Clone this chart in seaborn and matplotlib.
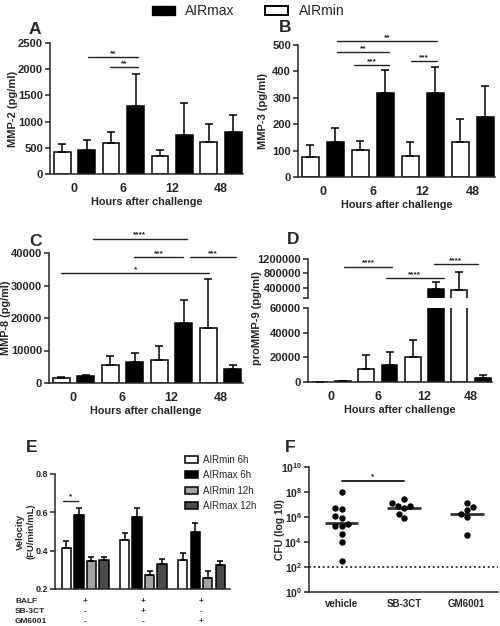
import numpy as np
import pandas as pd
import matplotlib
matplotlib.use('Agg')
import matplotlib.pyplot as plt
import matplotlib.transforms as mtrans
from matplotlib.patches import Patch
import seaborn as sns

sns.set_theme(style='ticks')
plt.rcParams['font.family'] = ['Liberation Sans', 'DejaVu Sans']
plt.rcParams['font.weight'] = 'bold'
plt.rcParams['axes.labelweight'] = 'bold'
plt.rcParams['mathtext.fontset'] = 'custom'
plt.rcParams['mathtext.rm'] = 'Liberation Sans:bold'
plt.rcParams['mathtext.bf'] = 'Liberation Sans:bold'
plt.rcParams['mathtext.it'] = 'Liberation Sans:bold'
plt.rcParams['axes.linewidth'] = 1.1

# ---------------- data ----------------
hours = ['0', '6', '12', '48']
groups = ['AIRmin', 'AIRmax']

mmp2_min = [427, 600, 344, 612]
mmp2_min_sd = [141, 197, 122, 338]
mmp2_max = [453, 1307, 746, 797]
mmp2_max_sd = [197, 600, 606, 325]

mmp3_min = [75, 102, 80, 131]
mmp3_min_sd = [47, 33, 51, 88]
mmp3_max = [133, 319, 319, 229]
mmp3_max_sd = [54, 86, 99, 116]

mmp8_min = [1600, 5440, 7080, 17030]
mmp8_min_sd = [300, 2960, 4200, 14870]
mmp8_max = [2100, 6560, 18360, 4410]
mmp8_max_sd = [450, 2570, 7280, 1130]

mmp9_min = [200, 10580, 20080, 325600]
mmp9_min_sd = [100, 11120, 14110, 520400]
mmp9_max = [700, 13570, 372000, 3530]
mmp9_max_sd = [400, 10580, 186000, 1900]

# significance brackets: (from bar index, to bar index, height, label); bars indexed 0..7
sig_a = [(1.07, 3.11, 2232, '**'), (1.97, 3.11, 2035, '**')]
sig_b = [(1.07, 5.07, 516, '**'), (1.07, 3.16, 474, '**'),
         (1.75, 3.16, 425, '***'), (4.04, 5.07, 438, '***')]
sig_c = [(1.28, 5.14, 44400, '****'), (2.98, 4.98, 38770, '***'),
         (5.25, 7.13, 38770, '***'), (0.0, 6.04, 33850, '*')]
sig_d = [(1.04, 3.12, 986000, '****'), (2.86, 5.32, 660000, '****'),
         (4.89, 6.79, 1051000, '****')]

e_conditions = ['BALF', 'BALF+SB-3CT', 'BALF+GM6001']
e_series = ['AIRmin 6h', 'AIRmax 6h', 'AIRmin 12h', 'AIRmax 12h']
e_vals = {
    'AIRmin 6h': [0.416, 0.454, 0.351],
    'AIRmax 6h': [0.584, 0.578, 0.496],
    'AIRmin 12h': [0.346, 0.275, 0.259],
    'AIRmax 12h': [0.351, 0.329, 0.325],
}
e_sd = {
    'AIRmin 6h': [0.032, 0.036, 0.039],
    'AIRmax 6h': [0.039, 0.047, 0.047],
    'AIRmin 12h': [0.019, 0.017, 0.037],
    'AIRmax 12h': [0.016, 0.026, 0.021],
}
e_table_rows = ['BALF', 'SB-3CT', 'GM6001']
e_table = [['+', '+', '+'], ['-', '+', '-'], ['-', '-', '+']]

f_treat = ['vehicle', 'SB-3CT', 'GM6001']
f_vehicle_log = [7.97, 6.72, 6.64, 5.92, 6.05, 5.44, 5.25, 5.31, 4.67, 4.0, 2.45]
f_sb3ct_log = [7.12, 7.44, 6.91, 6.72, 6.91, 5.92, 6.27]
f_gm6001_log = [6.77, 7.12, 6.27, 6.59, 5.97, 4.56]
f_detect_limit = 100

# ---------------- figure ----------------
W, H = 500, 626
fig = plt.figure(figsize=(W / 100, H / 100), dpi=100)


def add_axes(l, r, t, b):
    return fig.add_axes([l / W, 1 - b / H, (r - l) / W, (b - t) / H])


palette = {'AIRmin': 'white', 'AIRmax': 'black'}
LW = 1.1


def style_axis(ax, tick_fs=8):
    sns.despine(ax=ax)
    ax.tick_params(axis='x', length=0, labelsize=9, pad=6.5)
    ax.tick_params(axis='y', length=3.5, width=LW, labelsize=tick_fs, pad=1.5, direction='out')
    for lab in ax.get_xticklabels() + ax.get_yticklabels():
        lab.set_fontweight('bold')


def add_errors(ax, errs, levels, cap=3.2):
    for cont, lev in zip(ax.containers, levels):
        for bar, e in zip(cont, errs[lev]):
            x = bar.get_x() + bar.get_width() / 2
            h = bar.get_height()
            ax.errorbar(x, h, yerr=[[0], [e]], fmt='none', ecolor='black',
                        elinewidth=LW, capsize=cap, capthick=LW)


def bar_panel(ax, mins, maxs, mins_sd, maxs_sd):
    df = pd.DataFrame({'hours': hours * 2,
                       'group': ['AIRmin'] * 4 + ['AIRmax'] * 4,
                       'value': mins + maxs})
    sns.barplot(data=df, x='hours', y='value', hue='group', order=hours,
                hue_order=groups, palette=palette, width=1.0, gap=0.32,
                edgecolor='black', linewidth=LW, errorbar=None, legend=False, ax=ax)
    add_errors(ax, {'AIRmin': mins_sd, 'AIRmax': maxs_sd}, groups)
    ax.set_xlim(-0.5, 3.45)
    ax.set_xlabel('Hours after challenge', fontsize=7.8, labelpad=1.5)


def pos(i):
    return i * 0.5 - 0.25


def add_sig(ax, sigs, fs=6):
    for a, b, y, lab in sigs:
        ax.plot([pos(a), pos(b)], [y, y], color='#222222', lw=1.0, clip_on=False)
        ax.text((pos(a) + pos(b)) / 2, y, lab, ha='center', va='bottom',
                fontsize=fs, color='#222222')


def place_ylabel(ax, px_right, left, right):
    # px_right: pixel x of the label's right edge
    ax.yaxis.set_label_coords((px_right - left) / (right - left), 0.5)


# Panel A
axA = add_axes(50, 243, 43, 174)
bar_panel(axA, mmp2_min, mmp2_max, mmp2_min_sd, mmp2_max_sd)
axA.set_ylim(0, 2500)
axA.set_yticks(range(0, 2501, 500))
axA.set_ylabel('MMP-2 (pg/ml)', fontsize=8)
place_ylabel(axA, 17.5, 50, 243)
style_axis(axA)
add_sig(axA, sig_a)

# Panel B
axB = add_axes(298, 495, 45, 177)
bar_panel(axB, mmp3_min, mmp3_max, mmp3_min_sd, mmp3_max_sd)
axB.set_ylim(0, 500)
axB.set_yticks(range(0, 501, 100))
axB.set_ylabel('MMP-3 (pg/ml)', fontsize=8)
place_ylabel(axB, 267.5, 298, 495)
style_axis(axB)
add_sig(axB, sig_b)

# Panel C
axC = add_axes(49, 242.5, 253, 383)
bar_panel(axC, mmp8_min, mmp8_max, mmp8_min_sd, mmp8_max_sd)
axC.set_ylim(0, 40000)
axC.set_yticks(range(0, 40001, 10000))
axC.set_ylabel('MMP-8 (pg/ml)', fontsize=7.8)
place_ylabel(axC, 11.5, 49, 242.5)
style_axis(axC)
add_sig(axC, sig_c)

# Panel D (broken axis)
axD = add_axes(308, 492, 308.3, 382)
axDt = add_axes(308, 492, 259, 298.3)
bar_panel(axD, mmp9_min, mmp9_max, mmp9_min_sd, mmp9_max_sd)
bar_panel(axDt, mmp9_min, mmp9_max, mmp9_min_sd, mmp9_max_sd)
axD.set_ylim(0, 60000)
axD.set_yticks(range(0, 60001, 20000))
axD.set_ylabel('')
axDt.set_ylim(100000, 1200000)
axDt.set_yticks([100000, 400000, 800000, 1200000])
axDt.set_yticklabels(['', '400000', '800000', '1200000'])
axDt.set_ylabel('')
axDt.set_xlabel('')
style_axis(axD)
style_axis(axDt)
sns.despine(ax=axDt, bottom=True)
axDt.tick_params(axis='x', labelbottom=False)
for lab in axDt.get_yticklabels():
    lab.set_fontweight('bold')
add_sig(axDt, sig_d)
fig.text(257 / W, 1 - 318 / H, 'proMMP-9 (pg/ml)', rotation=90, ha='center',
         va='center', fontsize=8, fontweight='bold')

# Panel E
axE = add_axes(55, 230, 474, 589)
rows = []
for s in e_series:
    for c, v in zip(e_conditions, e_vals[s]):
        rows.append({'cond': c, 'series': s, 'velocity': v})
dfE = pd.DataFrame(rows)
e_pal = {'AIRmin 6h': 'white', 'AIRmax 6h': 'black',
         'AIRmin 12h': '#a3a3a3', 'AIRmax 12h': '#4a4a4a'}
sns.barplot(data=dfE, x='cond', y='velocity', hue='series', order=e_conditions,
            hue_order=e_series, palette=e_pal, width=0.86, gap=0.255,
            edgecolor='black', linewidth=LW, errorbar=None, legend=False, ax=axE)
add_errors(axE, e_sd, e_series, cap=2.2)
axE.set_ylim(0.2, 0.8)
axE.set_yticks([0.2, 0.4, 0.6, 0.8])
axE.set_yticklabels(['0.2', '0.4', '0.6', '0.8'])
axE.set_xlim(-0.52, 2.49)
axE.set_xlabel('')
axE.set_ylabel('Velocity\n(FU/min/mL)', fontsize=6.8, linespacing=1.1)
place_ylabel(axE, 35, 55, 230)
style_axis(axE, tick_fs=6.5)
axE.set_xticklabels([])
# significance in E
axE.plot([-0.39, -0.13], [0.661, 0.661], color='#222222', lw=1.0)
axE.text(-0.26, 0.661, '*', ha='center', va='bottom', fontsize=6, color='#222222')
# condition table
trE = mtrans.blended_transform_factory(axE.transData, fig.transFigure)
row_y = [601.5, 611.5, 621.5]
for rname, rsyms, ry in zip(e_table_rows, e_table, row_y):
    fig.text(15 / W, 1 - ry / H, rname, ha='left', va='center', fontsize=6,
             fontweight='bold')
    for ci, sym in enumerate(rsyms):
        axE.text(ci, 1 - ry / H, sym, transform=trE, ha='center', va='center',
                 fontsize=6, fontweight='bold', clip_on=False)
handles = [Patch(facecolor=e_pal[s], edgecolor='black', linewidth=LW) for s in e_series]
fig.legend(handles, e_series, loc='upper left', bbox_to_anchor=(178 / W, 1 - 448 / H),
           frameon=False, prop={'size': 7, 'weight': 'normal'}, handlelength=1.4,
           handleheight=0.75, labelspacing=0.55, handletextpad=0.5, borderpad=0.2)

# Panel F
axF = add_axes(309, 498, 467, 592)
axF.set_yscale('log')
dfF = pd.DataFrame({
    'treatment': ['vehicle'] * len(f_vehicle_log) + ['SB-3CT'] * len(f_sb3ct_log)
                 + ['GM6001'] * len(f_gm6001_log),
    'logcfu': f_vehicle_log + f_sb3ct_log + f_gm6001_log,
})
dfF['cfu'] = 10 ** dfF['logcfu']
sns.swarmplot(data=dfF, x='treatment', y='cfu', order=f_treat, color='black',
              size=4.6, ax=axF)
gmeans = dfF.groupby('treatment')['logcfu'].mean().reindex(f_treat)
for i, g in enumerate(gmeans):
    axF.hlines(10 ** g, i - 0.27, i + 0.27, color='#333333', lw=2.0)
axF.axhline(f_detect_limit, ls=(0, (1.2, 1.8)), color='black', lw=1.1)
axF.set_ylim(1, 1e10)
ks = list(range(0, 11, 2))
axF.set_yticks([10.0 ** k for k in ks])
axF.set_yticklabels([r'$\mathbf{10^{%d}}$' % k for k in ks])
axF.yaxis.set_minor_locator(matplotlib.ticker.NullLocator())
axF.set_xlim(-0.52, 2.5)
axF.set_xlabel('')
axF.set_ylabel('CFU (log 10)', fontsize=7.5)
place_ylabel(axF, 285, 309, 498)
style_axis(axF, tick_fs=7.5)
axF.tick_params(axis='x', labelsize=7, pad=5)
axF.plot([0, 1], [10 ** 8.91, 10 ** 8.91], color='#222222', lw=1.4)
axF.text(0.5, 10 ** 8.91, '*', ha='center', va='bottom', fontsize=6, color='#222222')

# top legend
top_handles = [Patch(facecolor='black', edgecolor='black'),
               Patch(facecolor='white', edgecolor='black', linewidth=1.4)]
fig.legend(top_handles, ['AIRmax', 'AIRmin'], loc='center', ncol=2,
           bbox_to_anchor=(248 / W, 1 - 11 / H), frameon=False,
           prop={'size': 10, 'weight': 'normal'}, handlelength=1.65, handleheight=0.6,
           handletextpad=0.75, columnspacing=2.2)

# panel letters
for letter, (lx, ly) in zip('ABCDEF', [(35, 29), (285, 27), (35, 242), (293, 239),
                                        (32, 448), (290, 447)]):
    fig.text(lx / W, 1 - ly / H, letter, ha='center', va='center', fontsize=12.5,
             fontweight='bold')

fig.savefig('out.png', dpi=100)
